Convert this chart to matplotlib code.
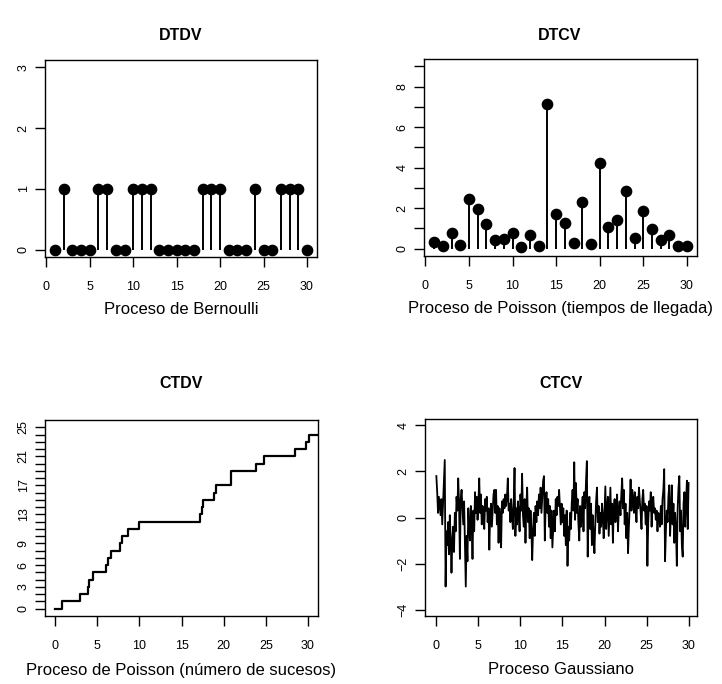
import matplotlib
matplotlib.use('Agg')
import matplotlib.pyplot as plt
import numpy as np

plt.rcParams['font.family'] = ['Liberation Sans', 'DejaVu Sans']

# ---------------- data ----------------
titles = ["DTDV", "DTCV", "CTDV", "CTCV"]
xlabels = ["Proceso de Bernoulli",
           "Proceso de Poisson (tiempos de llegada)",
           "Proceso de Poisson (número de sucesos)",
           "Proceso Gaussiano"]

bern_t = list(range(1, 31))
bern_v = [0, 1, 0, 0, 0, 1, 1, 0, 0, 1, 1, 1, 0, 0, 0, 0, 0, 1, 1, 1,
          0, 0, 0, 1, 0, 0, 1, 1, 1, 0]

arr_t = list(range(1, 31))
arr_v = [0.33, 0.11, 0.77, 0.16, 2.46, 1.97, 1.23, 0.41, 0.49, 0.77,
         0.08, 0.69, 0.15, 7.13, 1.72, 1.26, 0.28, 2.30, 0.21, 4.25,
         1.07, 1.43, 2.87, 0.52, 1.84, 0.98, 0.41, 0.66, 0.11, 0.11]

count_t = [0, 0.86, 3.0, 3.94, 3.98, 4.5, 6.05, 6.3, 6.6, 7.73, 7.96, 8.7,
           10.0, 17.2, 17.4, 17.6, 18.9, 19.1, 20.82, 20.86, 23.8, 24.76,
           28.52, 29.8, 30.1]
count_v = list(range(0, 25))
count_ticklabels = {0: "0", 3: "3", 6: "6", 9: "9", 13: "13", 17: "17", 21: "21", 25: "25"}

gauss_v = [
    1.8, 1.1, 0.2, 0.9, 0.5, 0.1, 0.8, -0.3, 0.6, 1.4,
    2.5, -3.0, -0.6, -1.2, -0.2, -1.6, 0.1, -0.9, -2.4, -1.0,
    -0.4, -1.5, 0.2, -0.6, 0.9, 0.3, 1.7, 0.6, -1.8, 0.8,
    1.2, 0.4, -0.3, 0.7, -1.2, -3.0, -0.8, -1.9, 0.4, -0.5,
    -1.0, 0.5, -0.2, -1.8, 0.3, -0.6, 1.1, 0.2, 0.9, -0.1,
    0.6, 1.7, 0.2, 1.0, -0.3, 0.5, 0.1, -0.5, 0.8, 0.3,
    0.9, -0.2, 0.4, -1.4, 0.1, 0.6, -0.4, 0.3, 1.0, 1.2,
    0.2, 1.2, -0.3, 0.5, -1.1, 0.4, -0.1, -1.3, 0.7, 0.2,
    0.8, 0.4, 1.0, 0.5, 0.9, 1.7, 0.3, 0.6, -0.2, 0.8,
    0.1, -0.5, 0.6, 2.15, -0.8, 0.4, -0.3, 0.7, 0.2, -0.6,
    1.0, 0.3, 1.9, 0.1, -0.4, 0.8, -1.1, 0.5, 1.3, -0.2,
    0.4, -0.9, 0.3, -0.5, -1.85, -0.6, 0.2, -0.8, 0.5, -0.2,
    0.7, 0.1, 1.0, 0.4, 1.3, 0.2, 0.9, 1.6, 1.8, -1.0,
    0.6, 1.1, 0.2, 0.8, -0.4, 0.5, -0.9, 0.3, -1.3, -0.5,
    0.3, -0.6, 0.8, 0.1, 0.9, 0.5, 1.2, 0.4, -0.3, 0.6,
    -0.2, 0.4, -0.8, 0.1, -1.2, 0.3, -2.1, -0.4, -1.0, 0.2,
    -0.5, 0.6, 1.2, 0.3, 2.4, -0.1, 1.5, 0.2, 0.8, -0.3,
    -1.0, 0.5, -0.4, 0.3, 0.9, -0.6, 1.1, 0.4, 1.6, 2.45,
    -1.7, 0.2, 0.9, -0.5, 0.6, -1.2, 0.1, -0.8, -1.55, -0.3,
    0.7, 1.3, -0.2, 0.5, -0.7, 0.2, -0.4, 0.6, 0.1, -0.9,
    0.3, 1.35, -0.5, 0.4, 0.9, -0.8, 0.2, 1.3, -0.3, 0.6,
    -1.1, 0.4, 0.8, -0.2, 0.5, 1.0, -0.6, 0.3, 0.7, 0.1,
    1.0, 1.7, 0.4, 1.2, -0.3, 0.6, -0.9, 0.2, -1.55, -0.4,
    0.5, 1.65, 0.3, 1.2, 0.8, 0.2, 1.1, 0.5, -0.2, 0.9,
    0.4, 1.3, 0.7, 0.2, -0.5, 0.8, 1.2, 0.3, 0.6, -0.3,
    0.5, -2.1, -0.2, 0.7, 0.3, 1.1, -0.4, 0.6, 0.9, 0.2,
    0.4, -0.1, 0.3, -0.6, 0.2, 0.1, -0.4, 0.5, -0.3, 0.8,
    1.2, 2.1, -1.9, -0.6, 0.3, -0.2, 0.9, 1.4, -0.8, 0.2,
    1.4, -0.3, 0.6, -1.1, 0.2, -0.5, -2.1, 0.4, 1.3, 1.8,
    -0.6, 0.3, -1.2, -1.7, 0.6, 1.1, -0.4, 0.7, 1.6, -0.5,
    1.5]
gauss_t = np.linspace(0, 30, len(gauss_v))

# ---------------- layout ----------------
W, H = 722, 684
fig = plt.figure(figsize=(W / 100, H / 100), dpi=100)

def axes_px(l, t, r, b):
    return fig.add_axes([l / W, 1 - b / H, (r - l) / W, (b - t) / H])

def ftext(x, y, s, **kw):
    fig.text(x / W, 1 - y / H, s, ha='center', va='center', **kw)

boxes = [(45, 60, 317, 257), (424, 59, 697, 256),
         (45, 420, 318, 616), (425, 419, 697, 616)]
axs = [axes_px(*b) for b in boxes]

for ax in axs:
    for sp in ax.spines.values():
        sp.set_linewidth(1.0)
    ax.tick_params(direction='out', length=7, width=1.0, labelsize=9,
                   pad=10.5)
    ax.tick_params(axis='y', labelrotation=90, pad=4)

# Panel 1: Bernoulli
ax = axs[0]
ax.vlines(bern_t, 0, bern_v, color='black', lw=1.4)
ax.plot(bern_t, bern_v, 'o', color='black', ms=7.4)
ax.set_xlim(-0.16, 31.16)
ax.set_ylim(-0.12, 3.12)
ax.set_xticks(range(0, 31, 5))
ax.set_yticks([0, 1, 2, 3])

# Panel 2: Poisson interarrival
ax = axs[1]
ax.vlines(arr_t, 0, arr_v, color='black', lw=1.4)
ax.plot(arr_t, arr_v, 'o', color='black', ms=7.4)
ax.set_xlim(-0.16, 31.16)
ax.set_ylim(-0.36, 9.36)
ax.set_xticks(range(0, 31, 5))
ax.set_yticks(range(0, 10))
ax.set_yticklabels([str(v) if v % 2 == 0 else "" for v in range(0, 10)])

# Panel 3: Poisson counting
ax = axs[2]
xr = 31.2
ax.step(count_t + [xr], count_v + [count_v[-1]], where='post',
        color='black', lw=1.6)
ax.set_xlim(-1.2, xr)
ax.set_ylim(-1, 26)
ax.set_xticks(range(0, 31, 5))
ax.set_yticks(range(0, 26))
ax.set_yticklabels([count_ticklabels.get(v, "") for v in range(0, 26)])

# Panel 4: Gaussian
ax = axs[3]
ax.plot(gauss_t, gauss_v, color='black', lw=1.3)
ax.set_xlim(-1.35, 31.0)
ax.set_ylim(-4.28, 4.28)
ax.set_xticks(range(0, 31, 5))
ax.set_yticks([-4, -2, 0, 2, 4])

for ax in axs:
    for lab in ax.get_yticklabels():
        lab.set_va('center')

# titles and axis labels
tpos = [(181, 35), (560, 35), (181, 384), (561, 384)]
lpos = [(181, 309), (560, 309), (181, 670), (561, 670)]
for (x, y), s in zip(tpos, titles):
    ftext(x, y, s, fontsize=11.5, fontweight='bold')
for (x, y), s in zip(lpos, xlabels):
    ftext(x, y, s, fontsize=12)

fig.savefig('out.png', dpi=100)
